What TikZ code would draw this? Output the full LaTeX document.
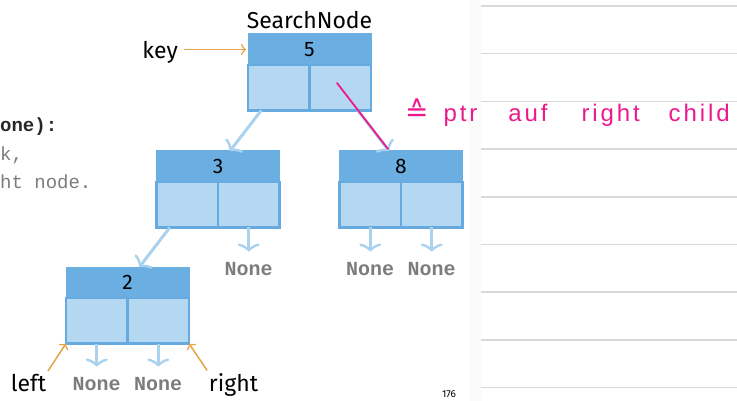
\documentclass[tikz,border=0pt]{standalone}
\usepackage{fontspec}
\setmainfont{Fira Sans}
\newfontfamily\codefont{Liberation Mono}
\newfontfamily\handfont[LetterSpace=12]{Liberation Sans}
\newfontfamily\symbfont{DejaVu Sans}
\usetikzlibrary{
  arrows.meta,
  chains,
  scopes,
  positioning
}
\definecolor{hdrblue}{HTML}{6BAFE2}
\definecolor{cellblue}{HTML}{B4D8F1}
\definecolor{edgeblue}{HTML}{66AADF}
\definecolor{arrowblue}{HTML}{A9D2EF}
\definecolor{keyorange}{HTML}{E3A546}
\definecolor{hlpink}{HTML}{EC198C}
\definecolor{rulegray}{HTML}{D9D9D9}
\definecolor{codegray}{HTML}{7C7C7C}

\begin{document}
\begin{tikzpicture}[x=1pt,y=-1pt,
      keybox/.style={
         rectangle,
         minimum width=123pt,
         minimum height=31pt,
         inner sep=0pt, outer sep=0pt,
         fill=hdrblue,
         draw=hdrblue, line width=1pt,
         font=\fontsize{21}{25}\selectfont
      },
      ptrcell/.style={
         rectangle,
         minimum width=61.5pt,
         minimum height=45.5pt,
         inner sep=0pt, outer sep=0pt,
         fill=cellblue,
         draw=edgeblue, line width=2.5pt
      },
      nonelabel/.style={
         inner sep=0pt,
         text=codegray,
         font=\codefont\bfseries\fontsize{20}{24}\selectfont
      },
      codeline/.style={
         anchor=base west, inner sep=0pt,
         text=codegray,
         font=\codefont\fontsize{19}{23}\selectfont
      },
      plainlabel/.style={
         inner sep=0pt,
         font=\fontsize{23}{27}\selectfont
      },
      note/.style={
         inner sep=0pt,
         text=hlpink,
         font=\handfont\fontsize{24}{28}\selectfont
      },
      tip/.style={
         -{Classical TikZ Rightarrow[length=8pt,width=22pt]},
         draw=arrowblue, line width=3pt
      },
      none tip/.style={tip, shorten >=11pt},
      key tip/.style={
         -{Classical TikZ Rightarrow[length=5pt,width=11pt]},
         draw=keyorange, line width=1.5pt
      }
    ]
    \useasboundingbox (0,0) rectangle (737,401);

    % notebook page
    \fill[gray!3] (469,0) rectangle (481,401);
    \foreach \i in {0,...,8}
       \draw[rulegray, line width=1.6pt] (481,{6+47.7*\i}) -- (737,{6+47.7*\i});

    % code on the slide, cut off at the left edge
    \node[codeline, text=black!85, font=\codefont\bfseries\fontsize{19}{23}\selectfont] (c1) at (0,132) {one):};
    \node[codeline] (c2) at (0,161) {k,};
    \node[codeline] (c3) at (0,189) {ht node.};

    % search nodes
    \node[keybox] (k5) at (309.5,49.5) {5};
    \node[ptrcell, anchor=north west] (l5) at (k5.south west) {};
    \node[ptrcell, anchor=north east] (r5) at (k5.south east) {};

    \node[keybox] (k3) at (218,166.5) {3};
    \node[ptrcell, anchor=north west] (l3) at (k3.south west) {};
    \node[ptrcell, anchor=north east] (r3) at (k3.south east) {};

    \node[keybox] (k8) at (401,166.5) {8};
    \node[ptrcell, anchor=north west] (l8) at (k8.south west) {};
    \node[ptrcell, anchor=north east] (r8) at (k8.south east) {};

    \node[keybox] (k2) at (127.5,282.5) {2};
    \node[ptrcell, anchor=north west] (l2) at (k2.south west) {};
    \node[ptrcell, anchor=north east] (r2) at (k2.south east) {};

    % labels
    \node[plainlabel, above=5pt of k5] (title) {SearchNode};
    \node[plainlabel, text depth=0pt, left=70pt of k5] (key) {key};
    \node[plainlabel, anchor=base] (lft) at (28.5,391) {left};
    \node[plainlabel, anchor=base] (rgt) at (233.5,391) {right};
    \node[inner sep=0pt, anchor=base, font=\fontsize{10}{12}\selectfont] (page) at (449,397.5) {176};

    \node[nonelabel, below=35pt of r3] (n3r) {None};
    \node[nonelabel, below=35pt of l8] (n8l) {None};
    \node[nonelabel, below=35pt of r8] (n8r) {None};
    \node[nonelabel, below=34pt of l2] (n2l) {None};
    \node[nonelabel, below=34pt of r2] (n2r) {None};

  { [start chain]
       \chainin (l5);
       \chainin (k3)    [join=by tip];
  }
  { [start chain]
       \chainin (r5);
       \chainin (k8)    [join=by tip];
  }
  { [start chain]
       \chainin (l3);
       \chainin (k2)    [join=by tip];
  }
  { [start chain]
       \chainin (r3);
       \chainin (n3r)   [join=by none tip];
  }
  { [start chain]
       \chainin (l8);
       \chainin (n8l)   [join=by none tip];
  }
  { [start chain]
       \chainin (r8);
       \chainin (n8r)   [join=by none tip];
  }
  { [start chain]
       \chainin (l2);
       \chainin (n2l)   [join=by none tip];
  }
  { [start chain]
       \chainin (r2);
       \chainin (n2r)   [join=by none tip];
  }
    \draw[key tip, shorten <=6pt, shorten >=2pt] (key) -- (k5);
    \draw[key tip, shorten <=3pt] (lft.north east) -- (l2.south west);
    \draw[key tip, shorten <=3pt] (rgt.north west) -- (r2.south east);

    % handwritten remark
    \coordinate (pstart) at (337,83);
    \coordinate (pend) at (388,149);
    \draw[hlpink, line width=1.8pt, line cap=round] (pstart) -- (pend);
    \node[note, anchor=base west] (remark) at (405,122)
       {{\symbfont\fontsize{28}{30}\selectfont ≙}\hspace{15pt}ptr\hspace{31pt}auf\hspace{34pt}right\hspace{29pt}child};
\end{tikzpicture}
\end{document}
